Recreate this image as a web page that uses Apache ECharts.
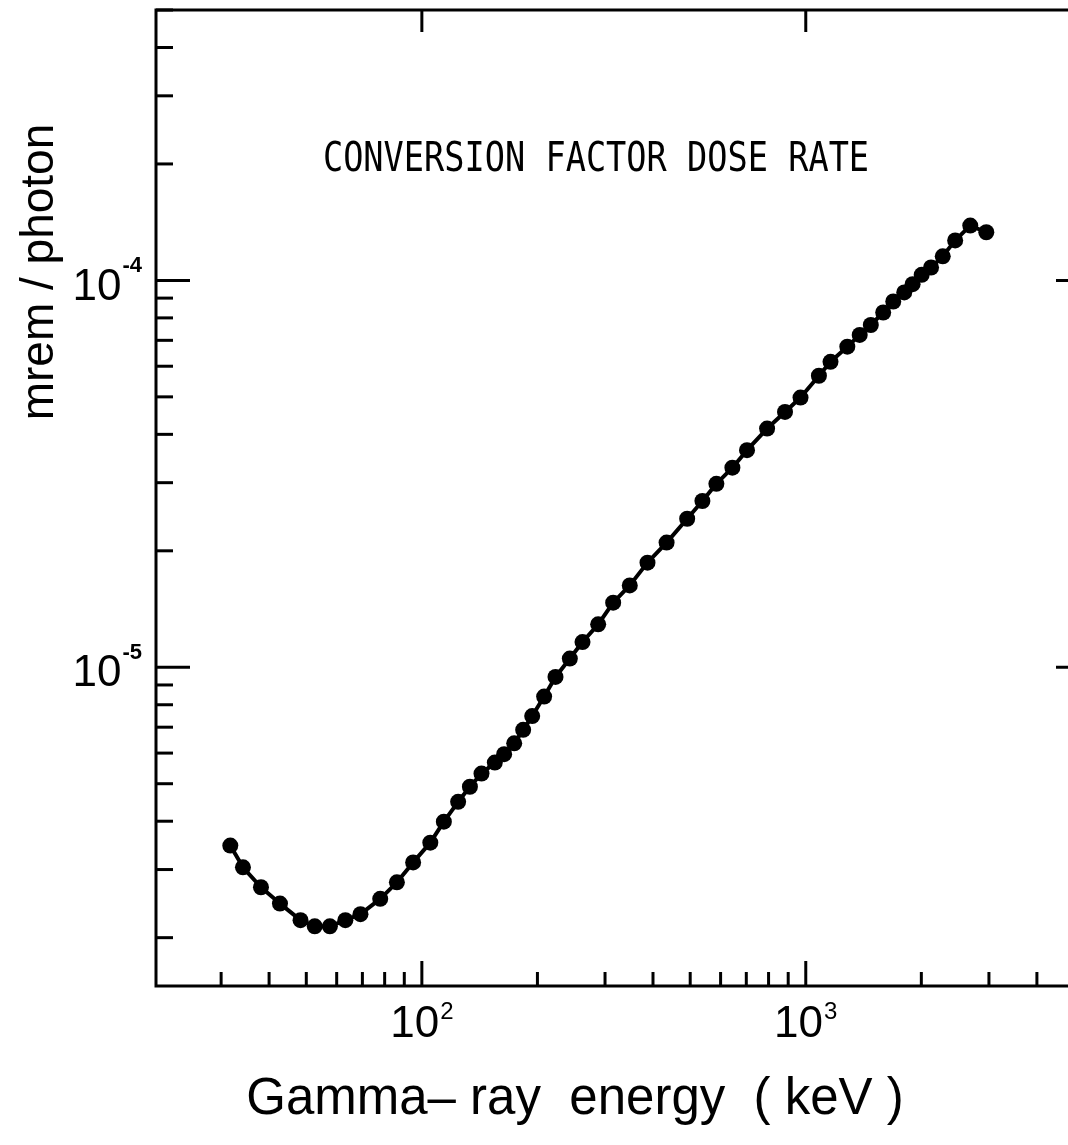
<!DOCTYPE html>
<html><head><meta charset="utf-8">
<script src="https://cdn.jsdelivr.net/npm/echarts@6/dist/echarts.min.js"></script>
<style>html,body{margin:0;padding:0;background:#fff;overflow:hidden;width:1068px;height:1145px}#c{width:1100px;height:1145px}</style>
</head><body><div id="c"></div>
<script>
// ---- data ----
const energyKeV = [31.7, 34.2, 38.1, 42.7, 48.3, 52.6, 57.6, 63.2, 69.2, 77.9, 86.1, 94.9,
  105.2, 114.1, 124.3, 133.4, 143.0, 154.9, 163.8, 174.0, 183.6, 193.8, 208.2, 222.9, 242.9,
  262.1, 287.9, 315.0, 348, 387, 434, 491, 538, 585, 644, 703, 793, 883, 969, 1082, 1160,
  1283, 1382, 1477, 1591, 1690, 1805, 1898, 2004, 2120, 2274, 2450, 2682, 2953];
const doseRate = [3.46e-6, 3.04e-6, 2.70e-6, 2.45e-6, 2.22e-6, 2.14e-6, 2.14e-6, 2.22e-6, 2.30e-6,
  2.52e-6, 2.78e-6, 3.13e-6, 3.52e-6, 3.99e-6, 4.49e-6, 4.91e-6, 5.31e-6, 5.67e-6, 5.96e-6,
  6.36e-6, 6.89e-6, 7.48e-6, 8.40e-6, 9.44e-6, 1.053e-5, 1.162e-5, 1.291e-5, 1.469e-5, 1.628e-5,
  1.864e-5, 2.10e-5, 2.42e-5, 2.69e-5, 2.98e-5, 3.28e-5, 3.64e-5, 4.14e-5, 4.57e-5, 4.98e-5,
  5.67e-5, 6.16e-5, 6.74e-5, 7.23e-5, 7.67e-5, 8.26e-5, 8.82e-5, 9.31e-5, 9.78e-5, 1.034e-4,
  1.080e-4, 1.154e-4, 1.269e-4, 1.386e-4, 1.332e-4];
const xMajorTicks = [100, 1000];
const xMinorTicks = [30, 40, 50, 60, 70, 80, 90, 200, 300, 400, 500, 600, 700, 800, 900, 2000, 3000, 4000, 5000];
const yMajorTicks = [1e-5, 1e-4];
const yMinorTicks = [2e-6, 3e-6, 4e-6, 5e-6, 6e-6, 7e-6, 8e-6, 9e-6,
  2e-5, 3e-5, 4e-5, 5e-5, 6e-5, 7e-5, 8e-5, 9e-5, 2e-4, 3e-4, 4e-4, 5e-4];
const xRange = [20.3, 5500];
const yRange = [1.5e-6, 5e-4];
const plotTitle = 'CONVERSION FACTOR DOSE RATE';
const xTitle = 'Gamma– ray  energy  ( keV )';
const yTitle = 'mrem / photon';

// ---- chart ----
const SANS = '"Liberation Sans", Arial, sans-serif';
function powLabel(v) {
  const e = Math.log10(v), r = Math.round(e);
  if (Math.abs(e - r) > 1e-6) return '';
  return '{b|10}{s|' + r + '}';
}
function tickSeries(values, axis, len) {
  return {
    type: 'custom', silent: true, clip: false, z: 5,
    data: values.map(v => axis === 'x' ? [v, yRange[0]] : [xRange[0], v]),
    encode: { x: 0, y: 1 },
    renderItem: function (params, api) {
      const cs = params.coordSys;
      const p = api.coord([api.value(0), api.value(1)]);
      const st = { stroke: '#000', lineWidth: 3 };
      const ch = [];
      if (axis === 'x') {
        const b = cs.y + cs.height, t = cs.y;
        if (len[0]) ch.push({ type: 'line', shape: { x1: p[0], y1: b, x2: p[0], y2: b - len[0] }, style: st });
        if (len[1]) ch.push({ type: 'line', shape: { x1: p[0], y1: t, x2: p[0], y2: t + len[1] }, style: st });
      } else {
        const l = cs.x, r = cs.x + cs.width;
        if (len[0]) ch.push({ type: 'line', shape: { x1: l, y1: p[1], x2: l + len[0], y2: p[1] }, style: st });
        if (len[1]) ch.push({ type: 'line', shape: { x1: r, y1: p[1], x2: r - len[1], y2: p[1] }, style: st });
      }
      return { type: 'group', children: ch };
    }
  };
}
const chart = echarts.init(document.getElementById('c'), null, { renderer: 'canvas' });
chart.setOption({
  animation: false,
  backgroundColor: '#fff',
  grid: { left: 156, top: 10, right: 10, bottom: 159, show: true, borderColor: '#000', borderWidth: 3, backgroundColor: 'transparent' },
  xAxis: {
    type: 'log', logBase: 10, min: xRange[0], max: xRange[1],
    axisLine: { show: false }, axisTick: { show: false }, splitLine: { show: false }, minorTick: { show: false },
    axisLabel: {
      margin: 14, formatter: powLabel, showMinLabel: false, showMaxLabel: false,
      rich: {
        b: { fontFamily: SANS, fontSize: 44, color: '#000', lineHeight: 50 },
        s: { fontFamily: SANS, fontSize: 24, color: '#000', verticalAlign: 'top', lineHeight: 24, padding: [0, 0, 0, 1] }
      }
    }
  },
  yAxis: {
    type: 'log', logBase: 10, min: yRange[0], max: yRange[1],
    axisLine: { show: false }, axisTick: { show: false }, splitLine: { show: false }, minorTick: { show: false },
    axisLabel: {
      margin: 14, formatter: powLabel, showMinLabel: false, showMaxLabel: false,
      rich: {
        b: { fontFamily: SANS, fontSize: 44, color: '#000', lineHeight: 50, padding: [14, 0, 0, 0] },
        s: { fontFamily: SANS, fontSize: 22, fontWeight: 'bold', color: '#000', verticalAlign: 'top', lineHeight: 22, padding: [0, 0, 0, 1] }
      }
    }
  },
  graphic: [
    { type: 'text', x: 596, y: 161, scaleX: 0.84, style: { text: plotTitle, fontFamily: '"DejaVu Sans Mono", monospace', fontSize: 40, fill: '#000', textAlign: 'center', textVerticalAlign: 'middle' } },
    { type: 'text', x: 575, y: 1100, style: { text: xTitle, fontFamily: SANS, fontSize: 51, fill: '#000', textAlign: 'center', textVerticalAlign: 'middle' } },
    { type: 'text', x: 40, y: 272, rotation: Math.PI / 2, style: { text: yTitle, fontFamily: SANS, fontSize: 46, fill: '#000', textAlign: 'center', textVerticalAlign: 'middle' } }
  ],
  series: [
    tickSeries(xMajorTicks, 'x', [25, 22]),
    tickSeries(xMinorTicks, 'x', [14, 0]),
    tickSeries(yMajorTicks, 'y', [34, 34]),
    tickSeries(yMinorTicks, 'y', [17, 17]),
    {
      type: 'line', z: 10,
      data: energyKeV.map((e, i) => [e, doseRate[i]]),
      symbol: 'circle', symbolSize: 16, showSymbol: true,
      lineStyle: { color: '#000', width: 4 },
      itemStyle: { color: '#000' }
    }
  ]
});
</script></body></html>
